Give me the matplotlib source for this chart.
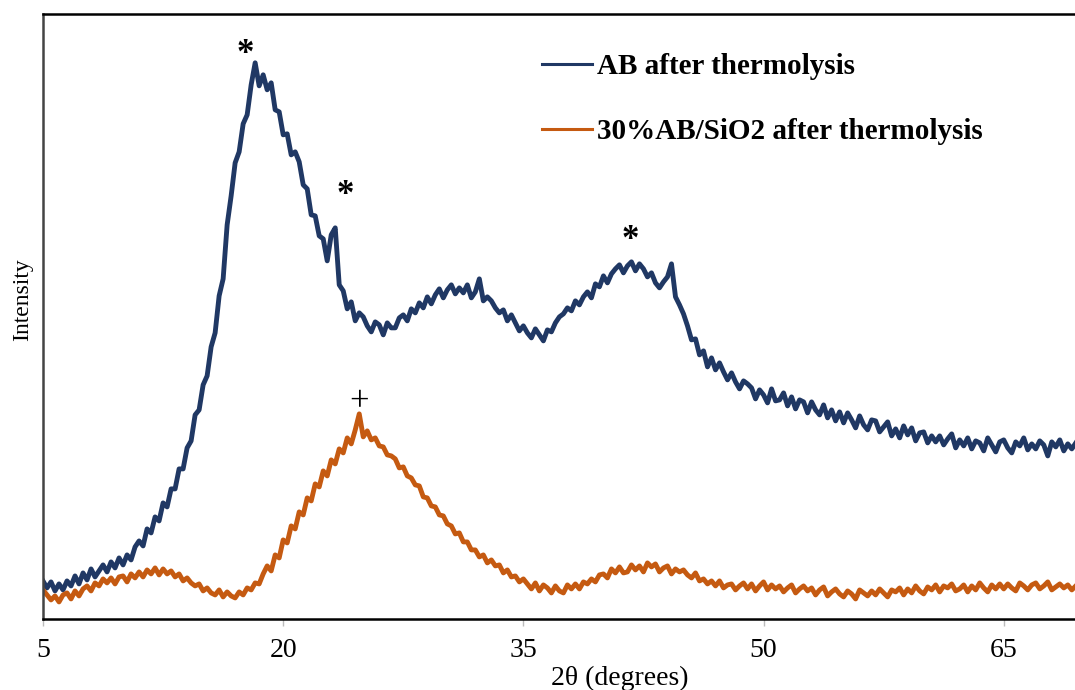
import numpy as np
import matplotlib
matplotlib.use("Agg")
import matplotlib.pyplot as plt

# 2theta grid of the scan (0.25 deg step, 5 -> 69.5)
theta_start, theta_step = 5.0, 0.25

# AB after thermolysis (arbitrary intensity)
ab_counts = [
    38, 31, 37, 28, 35, 29, 38, 33,
    43, 35, 46, 39, 50, 42, 48, 54,
    47, 57, 51, 61, 54, 64, 59, 72,
    78, 73, 90, 86, 102, 98, 116, 112,
    130, 130, 150, 150, 171, 178, 204, 209,
    234, 243, 272, 286, 323, 340, 394, 423,
    456, 467, 495, 504, 534, 556, 533, 544,
    529, 536, 509, 507, 484, 485, 464, 467,
    457, 434, 430, 404, 403, 383, 380, 358,
    384, 391, 334, 328, 310, 317, 298, 306,
    302, 293, 287, 297, 294, 284, 296, 291,
    291, 301, 304, 298, 310, 306, 316, 311,
    322, 315, 324, 330, 321, 329, 334, 325,
    331, 326, 334, 321, 327, 340, 318, 322,
    318, 311, 306, 309, 298, 304, 296, 288,
    293, 286, 281, 290, 284, 278, 289, 287,
    296, 302, 305, 311, 308, 318, 314, 322,
    327, 321, 335, 332, 343, 336, 345, 350,
    354, 346, 353, 357, 348, 355, 350, 342,
    346, 336, 331, 337, 342, 355, 322, 314,
    305, 293, 279, 280, 264, 268, 252, 261,
    249, 256, 247, 239, 246, 237, 230, 238,
    235, 231, 220, 229, 224, 216, 230, 218,
    219, 226, 213, 222, 210, 219, 217, 206,
    217, 209, 204, 214, 201, 209, 198, 207,
    196, 206, 199, 191, 203, 194, 189, 199,
    198, 187, 192, 197, 183, 190, 181, 193,
    184, 191, 178, 186, 187, 176, 183, 177,
    183, 174, 180, 185, 171, 179, 173, 181,
    170, 178, 176, 168, 181, 174, 167, 177,
    179, 171, 166, 177, 173, 181, 169, 175,
    170, 178, 174, 163, 177, 172, 179, 168,
    175, 170, 176,
]

# 30%AB/SiO2 after thermolysis
absio2_counts = [
    29, 24, 19, 23, 17, 24, 26, 20,
    28, 23, 30, 33, 28, 36, 33, 40,
    36, 41, 35, 42, 43, 37, 45, 41,
    47, 42, 49, 45, 51, 44, 50, 45,
    48, 42, 45, 38, 41, 36, 33, 35,
    28, 31, 26, 24, 29, 22, 27, 23,
    21, 27, 24, 31, 29, 36, 35, 45,
    53, 48, 64, 61, 79, 76, 93, 90,
    107, 104, 121, 118, 135, 132, 148, 143,
    159, 155, 170, 166, 181, 175, 189, 205,
    182, 188, 179, 181, 173, 172, 164, 163,
    160, 151, 152, 143, 141, 134, 133, 122,
    121, 113, 112, 104, 103, 95, 93, 85,
    86, 77, 77, 69, 69, 62, 64, 56,
    59, 53, 54, 46, 49, 42, 43, 37,
    40, 35, 30, 36, 28, 34, 31, 26,
    33, 28, 26, 34, 30, 35, 30, 37,
    35, 40, 37, 44, 45, 41, 50, 46,
    52, 46, 47, 54, 49, 53, 47, 56,
    52, 55, 47, 51, 53, 45, 50, 47,
    49, 44, 41, 46, 38, 40, 35, 38,
    33, 38, 31, 34, 35, 29, 33, 36,
    30, 35, 28, 33, 37, 29, 34, 30,
    33, 27, 31, 34, 26, 30, 33, 28,
    31, 24, 29, 32, 23, 27, 30, 25,
    22, 28, 25, 20, 29, 26, 23, 28,
    24, 30, 26, 22, 29, 27, 31, 24,
    30, 26, 33, 28, 25, 32, 29, 34,
    27, 33, 31, 35, 28, 30, 34, 27,
    33, 29, 36, 31, 27, 34, 30, 35,
    30, 35, 31, 28, 36, 33, 29, 34,
    36, 30, 33, 37, 29, 32, 35, 31,
    34, 29, 33,
]

series_labels = ["AB after thermolysis", "30%AB/SiO2 after thermolysis"]
series_colors = ["#203864", "#C55A11"]

x_ticks = [5, 20, 35, 50, 65]

# peak markers: (2theta, intensity, symbol)
peak_marks = [(17.6, 564, "*"), (23.85, 423, "*"), (41.7, 378, "*"), (24.75, 216, "+")]

theta = theta_start + theta_step * np.arange(len(ab_counts))

plt.rcParams['font.family'] = ['Liberation Serif', 'DejaVu Serif']

fig = plt.figure(figsize=(10.75, 6.9), dpi=100)
ax = fig.add_axes([0.04, 0.103, 0.96, 0.877])

ax.plot(theta, ab_counts, color=series_colors[0], lw=3.5, label=series_labels[0])
ax.plot(theta, absio2_counts, color=series_colors[1], lw=3.5, label=series_labels[1])

for px, py, sym in peak_marks:
    ax.text(px, py, sym, ha='center', va='center', fontsize=25,
            fontweight='bold' if sym == '*' else 'normal', color='black')

ax.set_xlim(5, 69.45)
ax.set_ylim(0, 605)
ax.set_xticks(x_ticks)
ax.set_yticks([])
ax.tick_params(axis='x', direction='out', length=5, width=1, color='#bbbbbb',
               labelsize=20, pad=9)

for s in ['top', 'left', 'bottom']:
    ax.spines[s].set_linewidth(1.8)
    ax.spines[s].set_color('black')
ax.spines['left'].set_color('#444444')
ax.spines['right'].set_visible(False)

ax.set_xlabel("2θ (degrees)", fontsize=20)
ax.xaxis.set_label_coords(0.559, -0.078)
ax.set_ylabel("Intensity", fontsize=17)
ax.yaxis.set_label_coords(-0.0095, 0.527)

leg = ax.legend(loc='upper left', bbox_to_anchor=(0.4835, 0.935), frameon=False,
                prop={'weight': 'bold', 'size': 21}, handlelength=1.7,
                handletextpad=0.2, labelspacing=1.3, borderpad=0,
                borderaxespad=0)
for line in leg.get_lines():
    line.set_linewidth(2.2)

fig.savefig("out.png", dpi=100)
